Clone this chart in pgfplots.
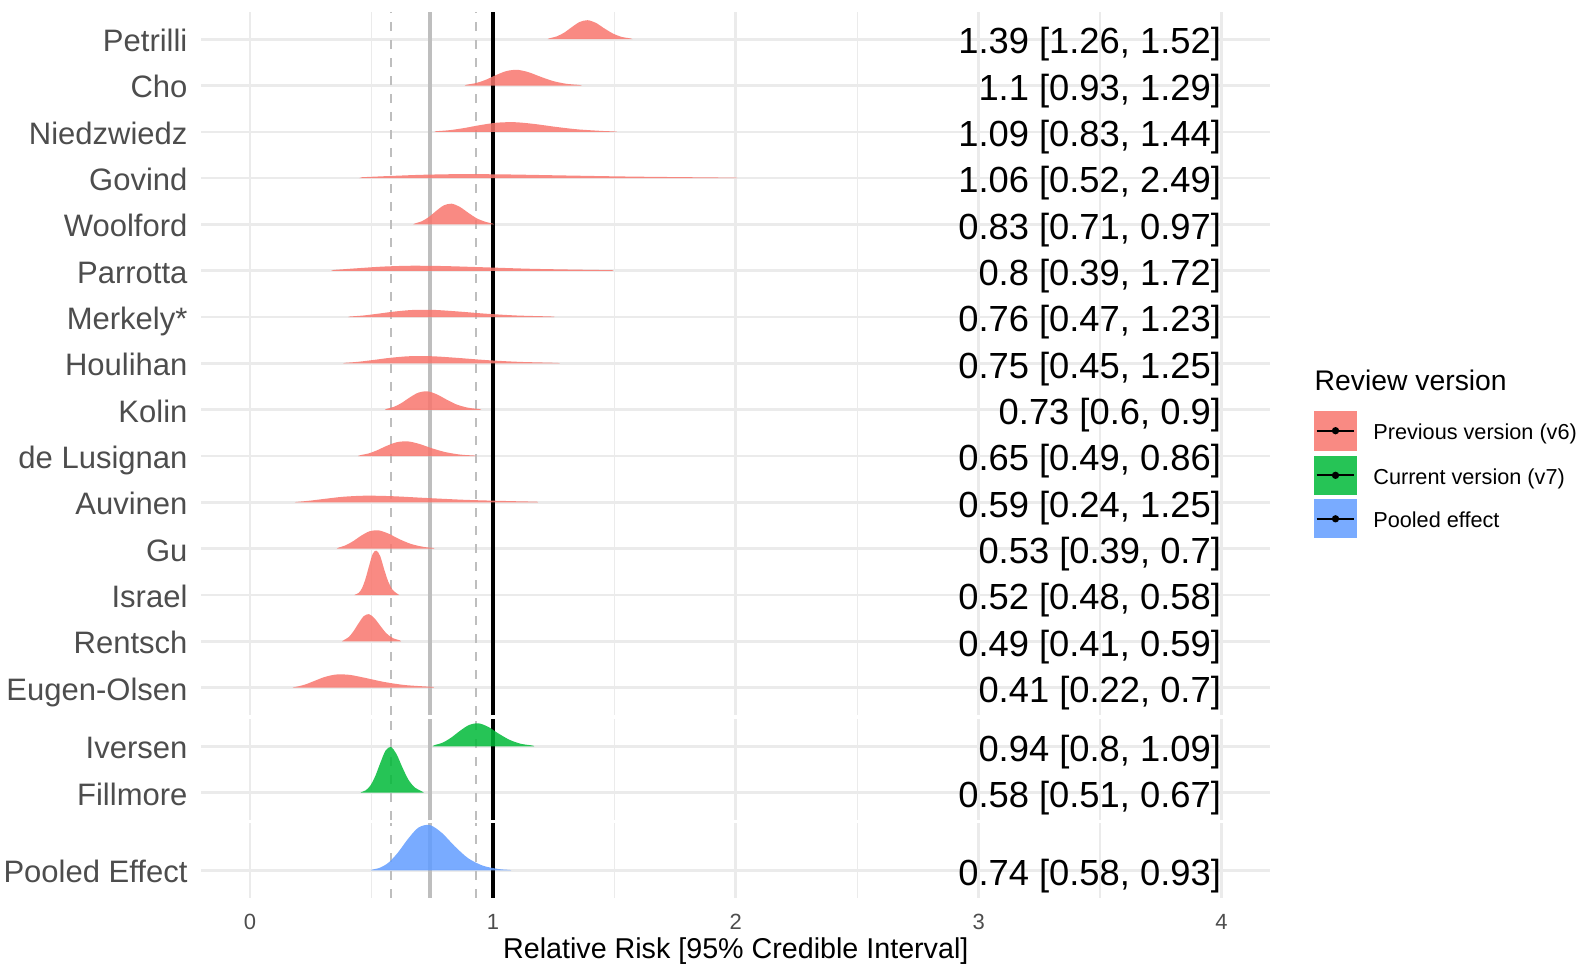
\documentclass[border=0pt]{standalone}
\usepackage{fontspec}
\setmainfont{Liberation Sans}
\usepackage{pgfplots}
\pgfplotsset{compat=1.18}

\definecolor{prev}{HTML}{F8766D}
\definecolor{curr}{HTML}{00BA38}
\definecolor{pool}{HTML}{619CFF}
\definecolor{gridc}{HTML}{EBEBEB}
\definecolor{labc}{HTML}{4D4D4D}
\definecolor{refc}{HTML}{BEBEBE}

\pgfplotsset{
  ridgepanel/.style={
    x=72.87pt, y=13.896pt,
    xmin=-0.2, xmax=4.2, ymin=0.41,
    anchor=south west, clip=false,
    axis line style={draw=none},
    major tick length=0pt, minor tick length=0pt,
    xtick={0,1,2,3,4}, minor xtick={0.5,1.5,2.5,3.5},
    xmajorgrids, xminorgrids, ymajorgrids,
    major grid style={line width=0.8pt, gridc},
    minor grid style={line width=0.4pt, gridc},
    xticklabels={},
    yticklabel style={font=\fontsize{9.3}{11}\selectfont, text=labc, inner sep=0pt,
      anchor=base east, xshift=-4pt, yshift=-3.7pt},
  },
  ridge/.style={draw=none, fill=#1, fill opacity=0.85, smooth, tension=0.5},
  pooledline/.style={refc, line width=1.2pt},
  ciline/.style={refc, line width=0.55pt, dash pattern=on 2.6pt off 2.8pt},
  nullline/.style={black, line width=1.15pt},
}
% estimate text at the right edge of a panel
\newcommand{\est}[2]{\node[anchor=base east, inner sep=0pt, yshift=-4.4pt,
  font=\fontsize{10.9}{13}\selectfont] at (axis cs:4,#1) {#2};}

\begin{document}
\begin{tikzpicture}
\useasboundingbox (0,0) rectangle (475.5pt,290.1pt);

% ---- previous version (v6)
\begin{axis}[ridgepanel, at={(60.42pt,75.6pt)}, ymax=15.59,
  ytick={1,...,15},
  yticklabels={Eugen-Olsen,Rentsch,Israel,Gu,Auvinen,de Lusignan,Kolin,Houlihan,Merkely*,Parrotta,Woolford,Govind,Niedzwiedz,Cho,Petrilli}]
\addplot[ciline] coordinates {(0.58,0.41) (0.58,15.59)};
\addplot[ciline] coordinates {(0.93,0.41) (0.93,15.59)};
\addplot[pooledline] coordinates {(0.74,0.41) (0.74,15.59)};
\addplot[nullline] coordinates {(1,0.41) (1,15.59)};

\addplot[ridge=prev] coordinates {(1.225,15) (1.233,15.020) (1.263,15.061) (1.294,15.143) (1.325,15.261) (1.357,15.371) (1.390,15.410) (1.424,15.353) (1.458,15.236) (1.494,15.123) (1.530,15.050) (1.567,15.016) (1.575,15)};
\addplot[ridge=prev] coordinates {(0.885,14) (0.893,14.018) (0.931,14.054) (0.971,14.124) (1.012,14.223) (1.055,14.311) (1.100,14.339) (1.147,14.287) (1.196,14.190) (1.247,14.098) (1.300,14.039) (1.355,14.012) (1.365,14)};
\addplot[ridge=prev] coordinates {(0.760,13) (0.767,13.013) (0.823,13.037) (0.883,13.083) (0.947,13.145) (1.016,13.197) (1.090,13.208) (1.169,13.171) (1.255,13.110) (1.346,13.055) (1.444,13.021) (1.500,13.008) (1.510,13)};
\addplot[ridge=prev] coordinates {(0.450,12) (0.460,12.018) (0.477,12.024) (0.582,12.048) (0.711,12.073) (0.868,12.087) (1.060,12.080) (1.294,12.058) (1.581,12.033) (1.930,12.014) (2.000,12.011) (2.005,12)};
\addplot[ridge=prev] coordinates {(0.672,11) (0.680,11.024) (0.708,11.071) (0.737,11.164) (0.767,11.295) (0.798,11.412) (0.830,11.449) (0.864,11.380) (0.899,11.251) (0.935,11.129) (0.973,11.052) (1.000,11.018) (1.005,11)};
\addplot[ridge=prev] coordinates {(0.335,10) (0.345,10.018) (0.375,10.030) (0.453,10.059) (0.548,10.091) (0.662,10.109) (0.800,10.102) (0.967,10.075) (1.168,10.042) (1.412,10.019) (1.490,10.014) (1.495,10)};
\addplot[ridge=prev] coordinates {(0.405,9) (0.411,9.013) (0.465,9.034) (0.526,9.073) (0.595,9.120) (0.672,9.155) (0.760,9.155) (0.859,9.121) (0.971,9.074) (1.098,9.035) (1.242,9.013) (1.250,9)};
\addplot[ridge=prev] coordinates {(0.385,8) (0.391,8.013) (0.445,8.035) (0.507,8.074) (0.578,8.122) (0.658,8.156) (0.750,8.155) (0.854,8.120) (0.973,8.072) (1.109,8.034) (1.263,8.012) (1.270,8)};
\addplot[ridge=prev] coordinates {(0.556,7) (0.564,7.022) (0.594,7.066) (0.625,7.150) (0.658,7.267) (0.693,7.369) (0.730,7.398) (0.769,7.334) (0.810,7.218) (0.852,7.111) (0.898,7.044) (0.945,7.014) (0.952,7)};
\addplot[ridge=prev] coordinates {(0.445,6) (0.454,6.020) (0.488,6.057) (0.524,6.127) (0.563,6.221) (0.605,6.300) (0.650,6.317) (0.698,6.261) (0.750,6.167) (0.806,6.084) (0.866,6.032) (0.925,6.011) (0.931,6)};
\addplot[ridge=prev] coordinates {(0.185,5) (0.190,5.010) (0.206,5.017) (0.254,5.042) (0.314,5.081) (0.387,5.123) (0.478,5.145) (0.590,5.133) (0.728,5.095) (0.899,5.053) (1.109,5.023) (1.180,5.016) (1.185,5)};
\addplot[ridge=prev] coordinates {(0.358,4) (0.365,4.025) (0.393,4.072) (0.424,4.161) (0.457,4.279) (0.492,4.376) (0.530,4.396) (0.571,4.324) (0.615,4.207) (0.663,4.103) (0.714,4.040) (0.755,4.016) (0.760,4)};
\addplot[ridge=prev] coordinates {(0.430,3) (0.434,3.012) (0.448,3.049) (0.461,3.146) (0.475,3.342) (0.490,3.624) (0.505,3.886) (0.520,3.960) (0.536,3.843) (0.552,3.564) (0.569,3.295) (0.586,3.120) (0.604,3.038) (0.615,3)};
\addplot[ridge=prev] coordinates {(0.378,2) (0.382,2.012) (0.388,2.032) (0.407,2.095) (0.426,2.218) (0.447,2.390) (0.468,2.542) (0.490,2.588) (0.513,2.496) (0.538,2.326) (0.563,2.167) (0.590,2.066) (0.618,2.021) (0.622,2)};
\addplot[ridge=prev] coordinates {(0.176,1) (0.180,1.011) (0.196,1.026) (0.227,1.068) (0.263,1.141) (0.305,1.227) (0.354,1.284) (0.410,1.277) (0.475,1.211) (0.551,1.125) (0.638,1.057) (0.740,1.021) (0.755,1.016) (0.758,1)};

\est{15}{1.39 [1.26, 1.52]}
\est{14}{1.1 [0.93, 1.29]}
\est{13}{1.09 [0.83, 1.44]}
\est{12}{1.06 [0.52, 2.49]}
\est{11}{0.83 [0.71, 0.97]}
\est{10}{0.8 [0.39, 1.72]}
\est{9}{0.76 [0.47, 1.23]}
\est{8}{0.75 [0.45, 1.25]}
\est{7}{0.73 [0.6, 0.9]}
\est{6}{0.65 [0.49, 0.86]}
\est{5}{0.59 [0.24, 1.25]}
\est{4}{0.53 [0.39, 0.7]}
\est{3}{0.52 [0.48, 0.58]}
\est{2}{0.49 [0.41, 0.59]}
\est{1}{0.41 [0.22, 0.7]}
\end{axis}

% ---- current version (v7)
\begin{axis}[ridgepanel, at={(60.42pt,44.1pt)}, ymax=2.59,
  ytick={1,2}, yticklabels={Fillmore,Iversen}]
\addplot[ciline] coordinates {(0.58,0.41) (0.58,2.59)};
\addplot[ciline] coordinates {(0.93,0.41) (0.93,2.59)};
\addplot[pooledline] coordinates {(0.74,0.41) (0.74,2.59)};
\addplot[nullline] coordinates {(1,0.41) (1,2.59)};

\addplot[ridge=curr] coordinates {(0.752,2) (0.760,2.027) (0.793,2.080) (0.827,2.184) (0.863,2.329) (0.901,2.459) (0.940,2.498) (0.981,2.421) (1.023,2.278) (1.068,2.143) (1.114,2.057) (1.163,2.018) (1.170,2)};
\addplot[ridge=curr] coordinates {(0.455,1) (0.459,1.014) (0.477,1.053) (0.496,1.157) (0.516,1.361) (0.537,1.648) (0.558,1.907) (0.580,1.987) (0.603,1.837) (0.627,1.552) (0.652,1.284) (0.678,1.114) (0.705,1.036) (0.716,1)};

\est{2}{0.94 [0.8, 1.09]}
\est{1}{0.58 [0.51, 0.67]}
\end{axis}

% ---- pooled effect
\begin{axis}[ridgepanel, at={(60.42pt,20.76pt)}, ymax=2.02,
  ytick={1}, yticklabels={Pooled Effect},
  xticklabels={0,1,2,3,4},
  xticklabel style={font=\fontsize{6.6}{8}\selectfont, text=labc, inner sep=0pt,
    anchor=base, yshift=-9.36pt}]
\addplot[ciline] coordinates {(0.58,0.41) (0.58,2.02)};
\addplot[ciline] coordinates {(0.93,0.41) (0.93,2.02)};
\addplot[pooledline] coordinates {(0.74,0.41) (0.74,2.02)};
\addplot[nullline] coordinates {(1,0.41) (1,2.02)};

\addplot[ridge=pool] coordinates {(0.498,1) (0.501,1.016) (0.535,1.060) (0.571,1.172) (0.609,1.387) (0.650,1.678) (0.693,1.925) (0.740,1.982) (0.790,1.812) (0.843,1.523) (0.899,1.262) (0.960,1.102) (1.024,1.031) (1.070,1.012) (1.075,1)};

\est{1}{0.74 [0.58, 0.93]}
\end{axis}

\node[anchor=base, inner sep=0pt, font=\fontsize{8.6}{10}\selectfont] at (220.74pt,2.6pt) {Relative Risk [95\% Credible Interval]};

% ---- legend
\node[anchor=base west, inner sep=0pt, font=\fontsize{8.5}{10}\selectfont] at (394.2pt,172.9pt) {Review version};
\fill[prev, opacity=0.85] (394.2pt,154.89pt) rectangle (407.1pt,166.89pt);
\fill[curr, opacity=0.85] (394.2pt,141.6pt) rectangle (407.1pt,153.39pt);
\fill[pool, opacity=0.85] (394.2pt,128.61pt) rectangle (407.1pt,140.31pt);
\foreach \yc in {160.89,147.51,134.46} {
  \draw[line width=0.7pt] (395.0pt,\yc pt) -- (406.2pt,\yc pt);
  \fill (400.65pt,\yc pt) circle (1.1pt);
}
\node[anchor=base west, inner sep=0pt, font=\fontsize{6.5}{8}\selectfont] at (411.8pt,158.3pt) {Previous version (v6)};
\node[anchor=base west, inner sep=0pt, font=\fontsize{6.5}{8}\selectfont] at (411.8pt,144.9pt) {Current version (v7)};
\node[anchor=base west, inner sep=0pt, font=\fontsize{6.5}{8}\selectfont] at (411.8pt,131.9pt) {Pooled effect};
\end{tikzpicture}
\end{document}
